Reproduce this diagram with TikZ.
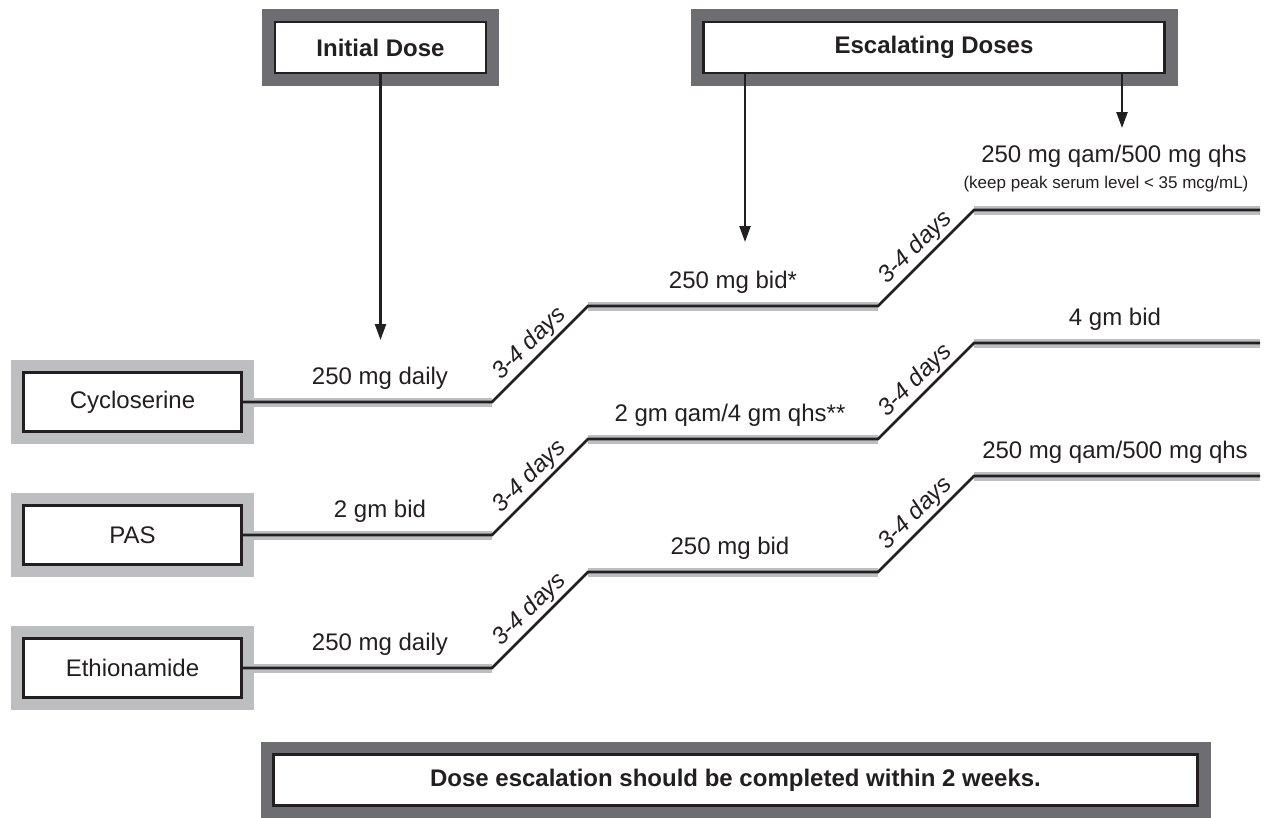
\documentclass[tikz,border=0pt]{standalone}
\usepackage{fontspec}
\setmainfont{Liberation Sans}
\usetikzlibrary{arrows.meta}
\definecolor{framedark}{HTML}{6D6E71}
\definecolor{framelight}{HTML}{BCBEC0}
\definecolor{ink}{HTML}{231F20}
\begin{document}
\begin{tikzpicture}[x=1pt,y=-1pt,
  every node/.style={text=ink, inner sep=0pt},
  txt/.style={font=\fontsize{24}{28}\selectfont, anchor=base},
  smalltxt/.style={font=\fontsize{17}{20}\selectfont, anchor=base},
  darkbox/.style={draw=ink, fill=white, line width=2.6pt, preaction={draw=framedark, line width=26pt}, font=\fontsize{24}{28}\selectfont\bfseries, minimum height=51pt},
  drugbox/.style={draw=ink, fill=white, line width=2.6pt, preaction={draw=framelight, line width=25pt}, font=\fontsize{24}{28}\selectfont, minimum width=218pt, minimum height=59pt},
  band/.style={draw=framelight, line width=9pt},
  doseline/.style={draw=ink, line width=2.8pt, line join=miter},
  days/.style={font=\fontsize{24}{28}\selectfont\itshape, midway, above, sloped, inner sep=2pt},
  arr/.style={draw=ink, line width=2.4pt, -{Triangle[length=16pt,width=11pt]}}
]
\useasboundingbox (0,0) rectangle (1275,817);

% header boxes
\node[darkbox, minimum width=211pt] (init) at (380.5,47.5) {Initial Dose};
\node[darkbox, minimum width=461pt] (esc) at (934,47.5) {Escalating Doses};
\node[darkbox, minimum width=924pt] (note) at (735.5,780) {Dose escalation should be completed within 2 weeks.};

% drug boxes
\node[drugbox] (cyc) at (132.5,402) {Cycloserine};
\node[drugbox] (pas) at (132.5,535) {PAS};
\node[drugbox] (eth) at (132.5,668) {Ethionamide};

% step coordinates
\foreach \n/\y in {c/402, p/535, e/668}{
  \coordinate (\n1) at (492,\y);
  \coordinate (\n2) at (588,\y-96);
  \coordinate (\n3) at (878,\y-96);
  \coordinate (\n4) at (974,\y-192);
  \coordinate (\n5) at (1260,\y-192);
}

% gray bands
\foreach \b/\n in {cyc/c, pas/p, eth/e}{
  \draw[band] ([yshift=-0.5pt]\b.east) -- ([yshift=-0.5pt]\n1);
  \draw[band] ([yshift=-0.5pt]\n2) -- ([yshift=-0.5pt]\n3);
  \draw[band] ([yshift=-0.5pt]\n4) -- ([yshift=-0.5pt]\n5);
}

% black step lines with day labels
\foreach \b/\n in {cyc/c, pas/p, eth/e}{
  \draw[doseline] (\b.east) -- (\n1)
     -- node[days] {3-4 days} (\n2) -- (\n3)
     -- node[days] {3-4 days} (\n4) -- (\n5);
}

% dose labels
\node[txt] (c1l) at (380,384) {250 mg daily};
\node[txt] (c2l) at (733,288) {250 mg bid*};
\node[txt] (c3l) at (1114,162) {250 mg qam/500 mg qhs};
\node[smalltxt] (c3s) at (1106,188) {(keep peak serum level < 35 mcg/mL)};
\node[txt] (p1l) at (380,517) {2 gm bid};
\node[txt] (p2l) at (730,421) {2 gm qam/4 gm qhs**};
\node[txt] (p3l) at (1115,325) {4 gm bid};
\node[txt] (e1l) at (380,650) {250 mg daily};
\node[txt] (e2l) at (730,554) {250 mg bid};
\node[txt] (e3l) at (1115,458) {250 mg qam/500 mg qhs};

% arrows
\coordinate (t1) at (380.5,340);
\coordinate (t2) at (745,242);
\coordinate (t3) at (1122,128);
\draw[arr] (init.south) -- (t1);
\draw[arr] (esc.south -| t2) -- (t2);
\draw[arr] (esc.south -| t3) -- (t3);
\end{tikzpicture}
\end{document}
